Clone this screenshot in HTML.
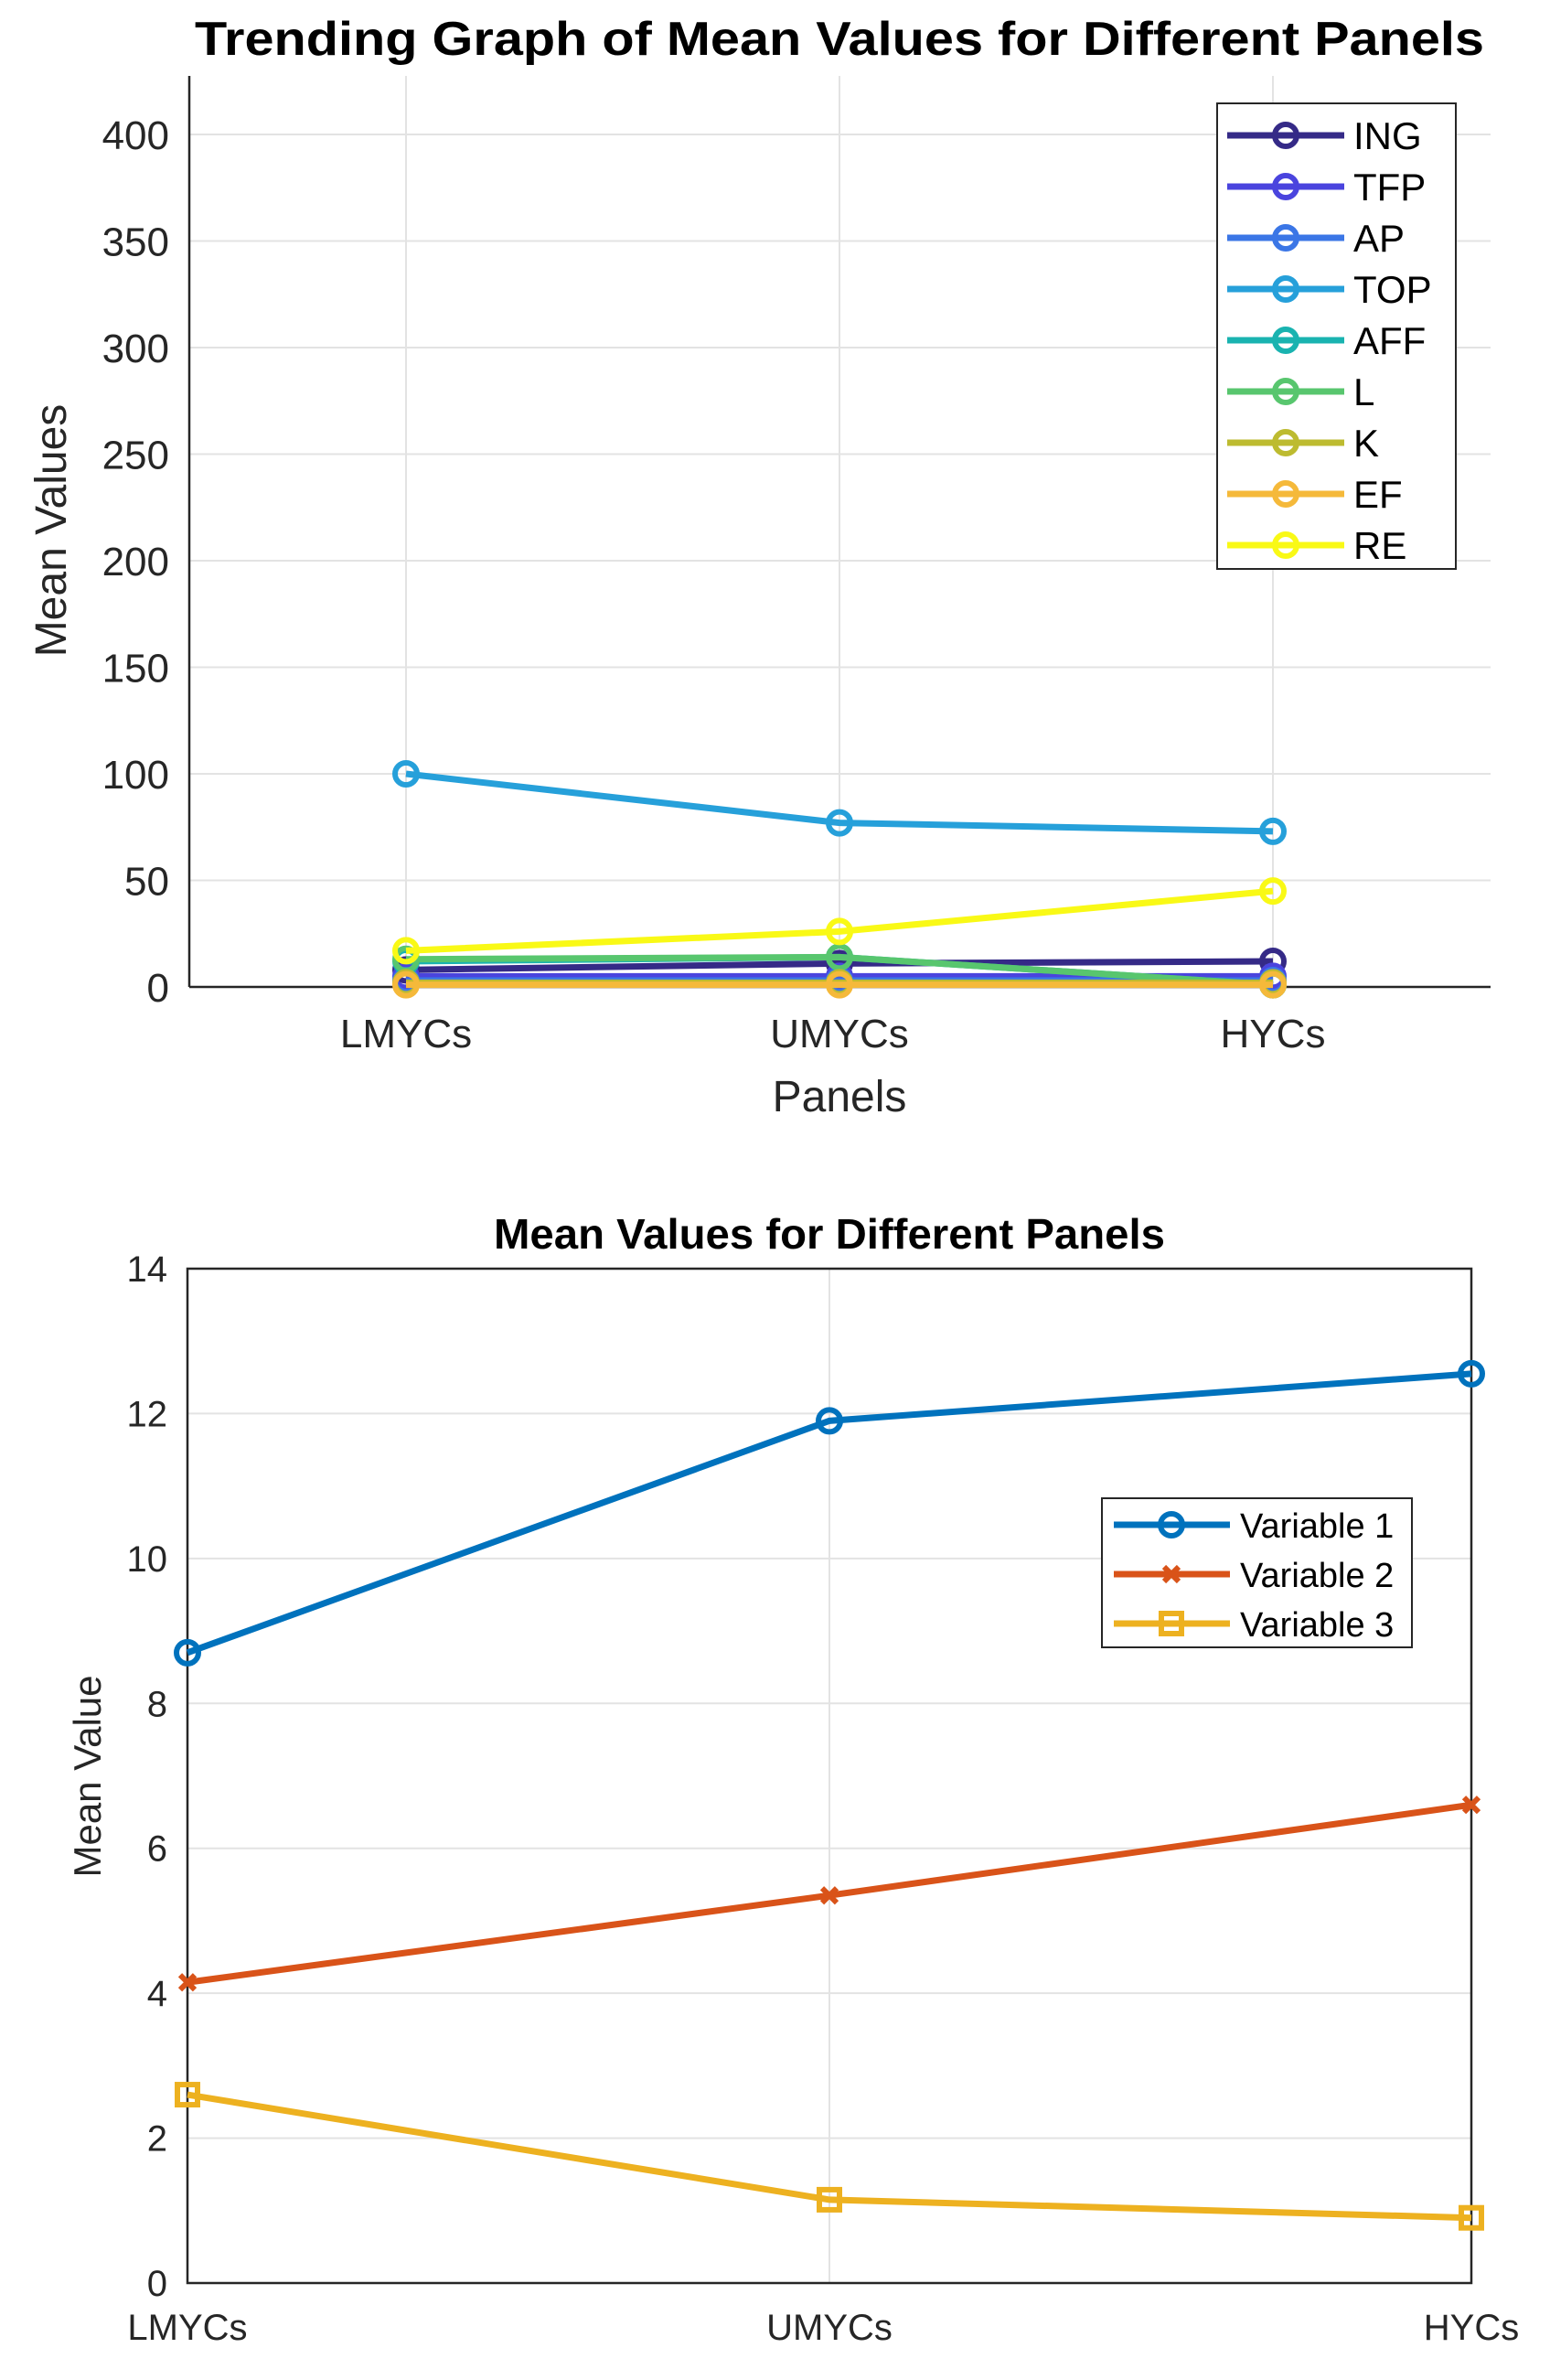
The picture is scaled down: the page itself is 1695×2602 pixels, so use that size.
<!DOCTYPE html>
<html><head><meta charset="utf-8"><style>body{margin:0;background:#fff}svg{display:block}text{font-family:"Liberation Sans",sans-serif}</style></head>
<body>
<svg id="s" width="1695" height="2602" viewBox="0 0 1695 2602"></svg>
<script>
const categories=["LMYCs","UMYCs","HYCs"];
const seriesNames1=["ING","TFP","AP","TOP","AFF","L","K","EF","RE"];
const ING=[8,11,12];
const TFP=[5,5,5];
const AP=[3,3,3];
const TOP=[100,77,73];
const AFF=[12,14,1];
const L=[13,14,1];
const K=[2,2,2];
const EF=[1,1,1];
const RE=[17,26,45];
const yTicks1=[0,50,100,150,200,250,300,350,400];
const seriesNames2=["Variable 1","Variable 2","Variable 3"];
const V1=[8.7,11.9,12.55];
const V2=[4.15,5.35,6.6];
const V3=[2.6,1.15,0.9];
const yTicks2=[0,2,4,6,8,10,12,14];

const NS="http://www.w3.org/2000/svg";const svg=document.getElementById('s');
function mk(t,a,p){const e=document.createElementNS(NS,t);for(const k in a)e.setAttribute(k,a[k]);(p||svg).appendChild(e);return e;}
function tx(s,a,p){const e=mk('text',a,p);e.textContent=s;return e;}

// chart 1
const c1={l:207,r:1630,t:83,b:1079,y400:147};
const g1=mk('g',{});
const x1=i=>444+i*474;const y1=v=>c1.b-(v/400)*(c1.b-c1.y400);
yTicks1.forEach(v=>{const l=mk('line',{x1:c1.l,x2:c1.r,y1:y1(v),y2:y1(v),stroke:'#e3e3e3','stroke-width':2},g1);
const t=tx(v,{x:c1.l-22,y:y1(v)+16,'text-anchor':'end','font-size':44,fill:'#262626'},g1);});
categories.forEach((c,i)=>{mk('line',{x1:x1(i),x2:x1(i),y1:c1.t,y2:c1.b,stroke:'#e3e3e3','stroke-width':2},g1);
const t=tx(c,{x:x1(i),y:1145,'text-anchor':'middle','font-size':44,fill:'#262626'},g1);});
mk('line',{x1:c1.l,x2:c1.l,y1:c1.t,y2:c1.b,stroke:'#262626','stroke-width':2.5},g1);
mk('line',{x1:c1.l,x2:c1.r,y1:c1.b,y2:c1.b,stroke:'#262626','stroke-width':2.5},g1);
let t=tx('Trending Graph of Mean Values for Different Panels',{x:918,y:60,'text-anchor':'middle','font-size':52,'font-weight':'bold',textLength:1410,lengthAdjust:'spacingAndGlyphs',fill:'#000'},g1);
t=tx('Panels',{x:918,y:1215,'text-anchor':'middle','font-size':48,fill:'#262626'},g1);
t=tx('Mean Values',{x:0,y:0,'text-anchor':'middle','font-size':48,fill:'#262626',transform:'translate(72,580) rotate(-90)'},g1);
const data1=[ING,TFP,AP,TOP,AFF,L,K,EF,RE];
const cols1=['#352a87','#4a44de','#3b76e6','#26a0da','#19b3b0','#58c66e','#bdbb30','#f5b93a','#f9f916'];
data1.forEach((d,s)=>{const p=mk('polyline',{points:d.map((v,i)=>x1(i)+','+y1(v)).join(' '),fill:'none',stroke:cols1[s],'stroke-width':7},g1);
d.forEach((v,i)=>{const c=mk('circle',{cx:x1(i),cy:y1(v),r:12,fill:'none',stroke:cols1[s],'stroke-width':6},g1);});});
const lg1=mk('g',{},g1);
mk('rect',{x:1331,y:113,width:261,height:509,fill:'#fff',stroke:'#262626','stroke-width':2},lg1);
seriesNames1.forEach((n,s)=>{const yy=148+s*56;const e=mk('g',{},lg1);
mk('line',{x1:1342,x2:1470,y1:yy,y2:yy,stroke:cols1[s],'stroke-width':7},e);mk('circle',{cx:1406,cy:yy,r:12,fill:'none',stroke:cols1[s],'stroke-width':6},e);
tx(n,{x:1480,y:yy+15,'font-size':42,fill:'#000'},e);});

// chart 2
const c2={l:205,r:1609,t:1387,b:2496};
const g2=mk('g',{});
const x2=i=>c2.l+i*(c2.r-c2.l)/2;const y2=v=>c2.b-(v/14)*(c2.b-c2.t);
yTicks2.forEach(v=>{mk('line',{x1:c2.l,x2:c2.r,y1:y2(v),y2:y2(v),stroke:'#e3e3e3','stroke-width':2},g2);
const t=tx(v,{x:c2.l-22,y:y2(v)+14,'text-anchor':'end','font-size':40,fill:'#262626'},g2);});
categories.forEach((c,i)=>{mk('line',{x1:x2(i),x2:x2(i),y1:c2.t,y2:c2.b,stroke:'#e3e3e3','stroke-width':2},g2);
const t=tx(c,{x:x2(i),y:2558,'text-anchor':'middle','font-size':40,fill:'#262626'},g2);});
mk('rect',{x:c2.l,y:c2.t,width:c2.r-c2.l,height:c2.b-c2.t,fill:'none',stroke:'#262626','stroke-width':2.5},g2);
t=tx('Mean Values for Different Panels',{x:907,y:1365,'text-anchor':'middle','font-size':46,'font-weight':'bold',textLength:734,lengthAdjust:'spacingAndGlyphs',fill:'#000'},g2);
t=tx('Mean Value',{x:0,y:0,'text-anchor':'middle','font-size':42,fill:'#262626',transform:'translate(110,1942) rotate(-90)'},g2);
const data2=[V1,V2,V3];const cols2=['#0072bd','#d95319','#edb120'];
function marker(s,x,y,p){if(s==0)return mk('circle',{cx:x,cy:y,r:12,fill:'none',stroke:cols2[0],'stroke-width':6},p);
if(s==1){const g=mk('g',{},p);mk('path',{d:`M${x-8} ${y-8}L${x+8} ${y+8}M${x-8} ${y+8}L${x+8} ${y-8}`,stroke:cols2[1],'stroke-width':6},g);return g;}
return mk('rect',{x:x-11,y:y-11,width:22,height:22,fill:'none',stroke:cols2[2],'stroke-width':6},p);}
data2.forEach((d,s)=>{const p=mk('polyline',{points:d.map((v,i)=>x2(i)+','+y2(v)).join(' '),fill:'none',stroke:cols2[s],'stroke-width':7},g2);
d.forEach((v,i)=>{const m=marker(s,x2(i),y2(v),g2);});});
const lg2=mk('g',{},g2);
mk('rect',{x:1205,y:1638,width:339,height:163,fill:'#fff',stroke:'#262626','stroke-width':2},lg2);
seriesNames2.forEach((n,s)=>{const yy=1667+s*54;const e=mk('g',{},lg2);
mk('line',{x1:1218,x2:1345,y1:yy,y2:yy,stroke:cols2[s],'stroke-width':7},e);marker(s,1281,yy,e);
tx(n,{x:1356,y:yy+14,'font-size':38,fill:'#000'},e);});
</script>
</body></html>
